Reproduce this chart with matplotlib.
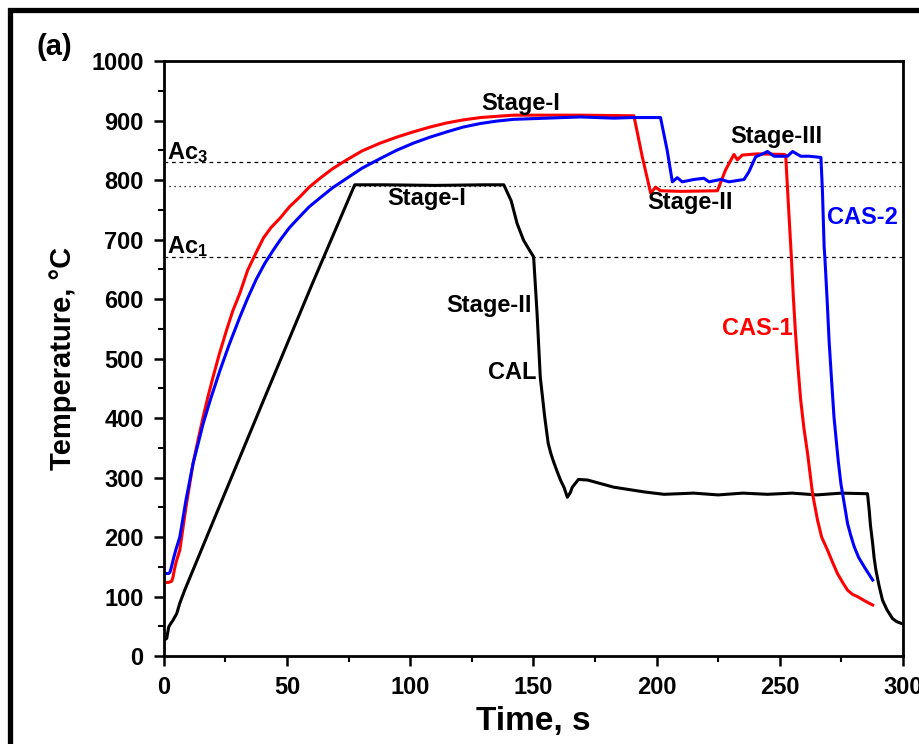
import matplotlib
matplotlib.use("Agg")
import matplotlib.pyplot as plt
from matplotlib.patches import Rectangle
from matplotlib.ticker import MultipleLocator

plt.rcParams['font.family'] = ['Liberation Sans', 'DejaVu Sans']
plt.rcParams['font.weight'] = 'bold'
plt.rcParams['mathtext.default'] = 'regular'

# CAL (black)
t_cal = [0.5, 1.2, 2.0, 3.0, 3.7, 5.3, 6.5, 8.5, 20, 40, 60, 77.5, 90, 110, 130, 138,
         141, 143.4, 146, 148, 150.1, 151.5, 152.8, 154.6, 156, 157, 158, 159.5, 161,
         162.5, 163.8, 165, 165.8, 168.3, 172, 182.6, 195, 203, 215, 225, 235, 245,
         255, 265, 275, 285.6, 286.3, 286.8, 287.7, 288.3, 289, 290.2, 291.7, 293.5,
         295.8, 297.5, 300]
T_cal = [28, 30, 49, 56, 60, 72, 89, 111, 226, 425, 623, 792, 792, 791, 792, 792,
         765, 727, 699, 685, 671, 576, 469, 402, 358, 342, 329, 312, 296,
         283, 267, 275, 284, 297, 296, 284, 276, 272, 274, 271, 274, 272,
         274, 271, 274, 273, 245, 220, 189, 165, 145, 120, 94, 78,
         63, 58, 54]

# CAS-1 (red)
t_cas1 = [0.5, 2.0, 3.2, 3.7, 4.3, 5.0, 6.5, 9, 11.9, 14, 16, 18, 20, 22.5, 25.5, 28,
          30.9, 34, 37.7, 40.5, 43.5, 47.2, 51, 55.3, 59, 63.4, 68.5, 74.3, 80.5, 87.8,
          94.5, 101.3, 108, 114.9, 121.5, 128.5, 135, 142, 169, 190.8, 194.2, 197.6,
          199.6, 201.6, 210, 224.7, 228, 231.4, 232.8, 234.8, 240.9, 251.8, 252.4,
          253.4, 254.7, 255.5, 256.3, 257.3, 258.5, 259.8, 261.3, 263.3, 265.3, 267,
          269.4, 271.5, 273.4, 275.5, 277.5, 279.5, 281.6, 284.5, 287.7]
T_cas1 = [124, 124, 126, 132, 145, 158, 178, 250, 324, 365, 402, 437, 469, 507, 548, 580,
          610, 648, 680, 703, 720, 736, 755, 772, 788, 803, 819, 834, 849, 862,
          872, 881, 889, 896, 901, 905, 907, 909, 909, 908, 839, 778,
          788, 782, 781, 782, 817, 843, 834, 842, 844, 843, 842,
          766, 671, 604, 548, 490, 430, 383, 340, 273, 229, 200,
          178, 157, 139, 124, 111, 104, 100, 93, 86]

# CAS-2 (blue)
t_cas2 = [0.5, 2.0, 2.5, 3.0, 4.0, 5.0, 6.5, 9, 11.9, 14, 16, 19, 22.8, 26.5, 30.9, 34,
          37.5, 41, 44.4, 47.2, 51, 55.3, 59, 63.4, 68.5, 74.3, 80.5, 87.8, 94.5, 101.3,
          108, 114.9, 121.5, 128.5, 135, 142, 169, 182.7, 190, 201.6, 204.3,
          206.4, 208.4, 210.4, 215.2, 219.2, 221.3, 226, 229.4, 235.5, 237.5, 240.2,
          243.6, 245, 247.7, 253.1, 255.2, 258.5, 261.9, 266.7, 267.3, 268, 268.3,
          269.2, 270, 271, 272, 273.7, 274.8, 275.5, 277.5, 278.8, 280.2, 282, 284.3,
          286, 287.7]
T_cas2 = [139, 139, 141, 148, 165, 180, 200, 262, 324, 358, 391, 432, 480, 523, 570, 601,
          633, 660, 682, 699, 720, 739, 755, 770, 787, 803, 820, 836, 850, 862,
          872, 881, 889, 895, 899, 902, 906, 904, 905, 905, 850,
          797, 804, 797, 801, 803, 797, 801, 797, 801, 814, 839,
          845, 848, 840, 840, 848, 840, 840, 838, 783, 688, 670,
          600, 531, 465, 402, 329, 290, 273, 223, 203, 184, 166, 150,
          139, 128]

ac3, ac_mid, ac1 = 830, 790, 670

fig = plt.figure(figsize=(9.2, 7.44), dpi=100)
ax = fig.add_axes([0.178, 0.118, 0.8035, 0.8])

ax.axhline(ac3, color='black', lw=0.9, ls=(0, (3, 3)))
ax.axhline(ac_mid, color='black', lw=0.9, ls=(0, (1, 3)))
ax.axhline(ac1, color='black', lw=0.9, ls=(0, (3, 3)))

ax.plot(t_cal, T_cal, color='black', lw=2.2)
ax.plot(t_cas1, T_cas1, color='#ff0000', lw=2.2)
ax.plot(t_cas2, T_cas2, color='#0000ff', lw=2.2)

ax.set_xlim(0, 300)
ax.set_ylim(0, 1000)
ax.xaxis.set_major_locator(MultipleLocator(50))
ax.xaxis.set_minor_locator(MultipleLocator(25))
ax.yaxis.set_major_locator(MultipleLocator(100))
ax.yaxis.set_minor_locator(MultipleLocator(50))
ax.tick_params(which='major', direction='out', length=7, width=1.8, labelsize=17, pad=7.5)
ax.tick_params(which='minor', direction='out', length=4, width=1.5)
for s in ax.spines.values():
    s.set_linewidth(2)

ax.set_xlabel('Time, s', fontsize=24, fontweight='bold', labelpad=5)
ax.set_ylabel('Temperature, \u00b0C', fontsize=21, fontweight='bold', labelpad=10)

lab = dict(fontsize=17, fontweight='bold', ha='center', va='center')
ax.text(1.5, 826, 'Ac$_3$', fontsize=17, fontweight='bold', ha='left', va='bottom')
ax.text(1.5, 668, 'Ac$_1$', fontsize=17, fontweight='bold', ha='left', va='bottom')
ax.text(144.7, 929, 'Stage-I', **lab)
ax.text(106.8, 769, 'Stage-I', **lab)
ax.text(132, 590, 'Stage-II', **lab)
ax.text(141.5, 477, 'CAL', **lab)
ax.text(213.4, 763, 'Stage-II', **lab)
ax.text(248.7, 874, 'Stage-III', **lab)
ax.text(283.7, 737, 'CAS-2', color='#0000ff', **lab)
ax.text(241, 550, 'CAS-1', color='#ff0000', **lab)

fig.text(37 / 920, 1 - 47 / 744, '(a)', fontsize=21, fontweight='bold', ha='left', va='center')

frame = Rectangle((10 / 920, -0.2), 1.5, 1.2 - 10 / 744, transform=fig.transFigure,
                  fill=False, lw=3.8, edgecolor='black', clip_on=False)
fig.patches.append(frame)

fig.savefig('out.png', dpi=100)
